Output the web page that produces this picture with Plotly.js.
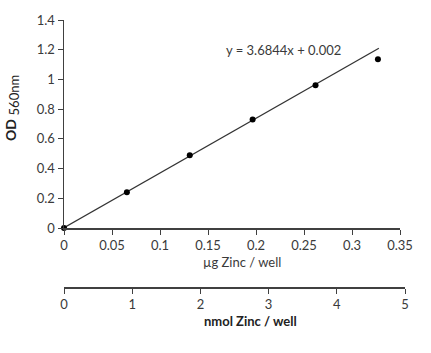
<!DOCTYPE html>
<html><head><meta charset="utf-8">
<script src="https://cdn.plot.ly/plotly-3.0.1.min.js"></script>
<style>html,body{margin:0;padding:0;background:#fff}</style>
</head><body>
<div id="chart" style="width:431px;height:353px"></div>
<script>
var zincUg = [0, 0.0655, 0.131, 0.1965, 0.262, 0.327];
var od = [0, 0.24, 0.49, 0.73, 0.96, 1.135];
var trendX = [0, 0.328];
var trendY = [0.002, 1.21];
var equationText = 'y = 3.6844x + 0.002';
var nmolTicks = [0, 1, 2, 3, 4, 5];

var fnt = {family: 'Lato, "Open Sans", sans-serif', size: 13, color: '#3a3a3a'};
var traces = [
  {x: nmolTicks, y: [0,0,0,0,0,0], mode: 'markers', xaxis: 'x2', yaxis: 'y', hoverinfo: 'skip', marker:{opacity:0, size: 1}},
  {x: trendX, y: trendY, mode: 'lines', line: {color: '#333', width: 1.3}, xaxis: 'x', yaxis: 'y', hoverinfo: 'skip', cliponaxis: false},
  {x: zincUg, y: od, mode: 'markers', marker: {color: '#000', size: 6}, xaxis: 'x', yaxis: 'y', cliponaxis: false}
];
var layout = {
  width: 431, height: 353,
  margin: {l: 64, r: 26, t: 20, b: 66},
  showlegend: false,
  paper_bgcolor: '#fff', plot_bgcolor: 'rgba(0,0,0,0)',
  font: fnt,
  xaxis: {domain: [0, 336/341], range: [0, 0.35], dtick: 0.05, tick0: 0, showgrid: false, zeroline: false,
    showline: true, linecolor: '#404040', linewidth: 1.5, ticks: 'outside', ticklen: 5, tickcolor: '#404040',
    anchor: 'y', tickfont: fnt},
  yaxis: {domain: [59/267, 1], range: [0, 1.4], dtick: 0.2, tick0: 0, showgrid: false, zeroline: false,
    showline: true, linecolor: '#404040', linewidth: 1.5, ticks: 'outside', ticklen: 5, tickcolor: '#404040',
    tickfont: fnt},
  xaxis2: {domain: [0, 1], range: [0, 5], dtick: 1, tick0: 0, anchor: 'free', position: 0,
    showgrid: false, zeroline: false, showline: true, linecolor: '#404040', linewidth: 1.5,
    ticks: 'outside', ticklen: 5, tickcolor: '#404040', tickfont: fnt, side: 'bottom'},
  annotations: [
    {text: equationText, xref: 'paper', yref: 'paper', x: 219/341, y: 237/267, showarrow: false, font: fnt, xanchor: 'center', yanchor: 'middle'},
    {text: 'µg Zinc / well', xref: 'paper', yref: 'paper', x: 178/341, y: 25/267, showarrow: false, font: fnt, xanchor: 'center', yanchor: 'middle'},
    {text: '<b>nmol Zinc / well</b>', xref: 'paper', yref: 'paper', x: 186/341, y: -34/267, showarrow: false, font: {family: fnt.family, size: 13, color: '#222'}, xanchor: 'center', yanchor: 'middle'},
    {text: '<b>OD</b> <sub><span style="font-size:13px">560nm</span></sub>', xref: 'paper', yref: 'paper', x: -52/341, y: 179/267, showarrow: false, textangle: -90, font: {family: fnt.family, size: 14, color: '#222'}, xanchor: 'center', yanchor: 'middle'}
  ]
};
Plotly.newPlot('chart', traces, layout, {staticPlot: true, displayModeBar: false});
</script>
</body></html>
